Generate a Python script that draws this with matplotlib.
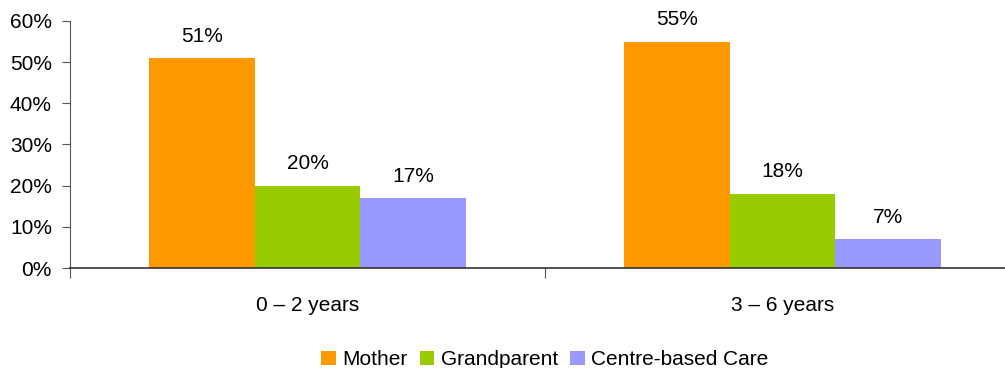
import matplotlib
matplotlib.use('Agg')
import matplotlib.pyplot as plt
import numpy as np

plt.rcParams['font.family'] = ['Liberation Sans', 'DejaVu Sans']

# Share of children by main carer, per age group
age_groups = ['0 – 2 years', '3 – 6 years']
series = ['Mother', 'Grandparent', 'Centre-based Care']
mother = [51, 55]
grandparent = [20, 18]
centre_care = [17, 7]
colors = ['#FF9900', '#99CC00', '#9999FF']

values = [mother, grandparent, centre_care]

fig = plt.figure(figsize=(10.05, 3.68), dpi=100)
ax = fig.add_axes([0.0697, 0.2717, 0.9303, 0.6713])

x = np.arange(len(age_groups))
width = 0.222
offsets = [-width, 0, width]

for vals, name, color, off in zip(values, series, colors, offsets):
    bars = ax.bar(x + off, vals, width, color=color, label=name, zorder=2)
    for b, v in zip(bars, vals):
        ax.annotate(f'{v}%', (b.get_x() + b.get_width() / 2, v),
                    xytext=(0, 9), textcoords='offset points',
                    ha='center', va='bottom', fontsize=15)

ax.set_xlim(-0.5, 1.468)
ax.set_ylim(0, 60)
ax.set_yticks(range(0, 61, 10))
ax.set_yticklabels([f'{t}%' for t in range(0, 61, 10)], fontsize=15)

# boundary ticks carry the marks, centre ticks carry the labels
ax.set_xticks([-0.5, 0.5])
ax.set_xticklabels([])
ax.set_xticks(x, minor=True)
ax.set_xticklabels(age_groups, minor=True, fontsize=15)
ax.tick_params(axis='x', which='minor', length=0, pad=20)
ax.tick_params(axis='x', which='major', length=7, direction='out', color='#555555')
ax.tick_params(axis='y', length=6, direction='out', color='#555555', pad=7)

for side in ['top', 'right']:
    ax.spines[side].set_visible(False)
ax.spines['left'].set_color('#555555')
ax.spines['bottom'].set_color('#333333')
ax.spines['bottom'].set_linewidth(1.2)

fig.legend(loc='lower center', bbox_to_anchor=(0.542, -0.055), ncol=3, frameon=False,
           fontsize=15, handlelength=0.7, handleheight=0.7, handletextpad=0.3,
           columnspacing=0.6)

fig.savefig('out.png', dpi=100)
plt.close(fig)
